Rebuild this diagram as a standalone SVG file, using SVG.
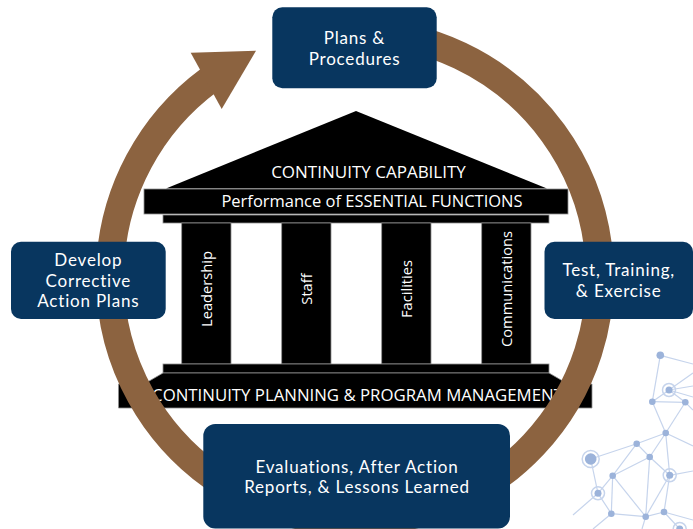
<svg xmlns="http://www.w3.org/2000/svg" width="693" height="529" viewBox="0 0 693 529">
  <style>
    .box { fill: #08365f; }
    .boxtxt { font-family: Lato, "Open Sans", sans-serif; font-size: 17px; letter-spacing: 0.8px; fill: #ffffff; text-anchor: middle; }
    .blk { fill: #000000; stroke: #8f8f8f; stroke-width: 0.8; }
    .ttxt { font-family: "Open Sans", "Noto Sans", sans-serif; fill: #ffffff; text-anchor: middle; }
    .col { font-size: 14.7px; }
    .net line { stroke: #c6d4ec; stroke-width: 1.2; }
    .net circle.d { fill: #9cb3da; }
    .net circle.h { fill: none; stroke: #c6d4ec; stroke-width: 1.5; }
  </style>

  <rect x="0" y="0" width="693" height="529" fill="#ffffff"/>

  <!-- network decoration -->
  <g class="net" id="network">
    <line x1="660.3" y1="355.3" x2="652.3" y2="401.7"/>
    <line x1="660.3" y1="355.3" x2="693" y2="364"/>
    <line x1="669" y1="390" x2="693" y2="373"/>
    <line x1="669" y1="390" x2="693" y2="386"/>
    <line x1="669" y1="390" x2="693" y2="397"/>
    <line x1="669" y1="390" x2="652.3" y2="401.7"/>
    <line x1="669" y1="390" x2="685.3" y2="402.3"/>
    <line x1="652.3" y1="401.7" x2="685.3" y2="402.3"/>
    <line x1="652.3" y1="401.7" x2="665.7" y2="433"/>
    <line x1="685.3" y1="402.3" x2="665.7" y2="433"/>
    <line x1="685.3" y1="402.3" x2="693" y2="410"/>
    <line x1="665.7" y1="433" x2="636.7" y2="443.7"/>
    <line x1="665.7" y1="433" x2="649.7" y2="457"/>
    <line x1="665.7" y1="433" x2="669.7" y2="475.3"/>
    <line x1="665.7" y1="433" x2="693" y2="446"/>
    <line x1="636.7" y1="443.7" x2="590.7" y2="459"/>
    <line x1="636.7" y1="443.7" x2="612.7" y2="475.7"/>
    <line x1="636.7" y1="443.7" x2="649.7" y2="457"/>
    <line x1="649.7" y1="457" x2="612.7" y2="475.7"/>
    <line x1="649.7" y1="457" x2="645.7" y2="516.7"/>
    <line x1="649.7" y1="457" x2="669.7" y2="475.3"/>
    <line x1="590.7" y1="459" x2="598" y2="493.3"/>
    <line x1="612.7" y1="475.7" x2="598" y2="493.3"/>
    <line x1="612.7" y1="475.7" x2="611.3" y2="513.7"/>
    <line x1="612.7" y1="475.7" x2="645.7" y2="516.7"/>
    <line x1="669.7" y1="475.3" x2="664" y2="512"/>
    <line x1="669.7" y1="475.3" x2="645.7" y2="516.7"/>
    <line x1="669.7" y1="475.3" x2="693" y2="471"/>
    <line x1="598" y1="493.3" x2="573" y2="515"/>
    <line x1="598" y1="493.3" x2="611.3" y2="513.7"/>
    <line x1="611.3" y1="513.7" x2="645.7" y2="516.7"/>
    <line x1="611.3" y1="513.7" x2="593" y2="529"/>
    <line x1="645.7" y1="516.7" x2="664" y2="512"/>
    <line x1="645.7" y1="516.7" x2="642" y2="529"/>
    <line x1="664" y1="512" x2="679.7" y2="529"/>
    <line x1="664" y1="512" x2="693" y2="520"/>
    <circle class="h" cx="669" cy="390" r="6.5"/>
    <circle class="h" cx="590.7" cy="459" r="8.5"/>
    <circle class="h" cx="669.7" cy="475.3" r="6.5"/>
    <circle class="h" cx="598" cy="493.3" r="6.5"/>
    <circle class="h" cx="679.7" cy="529" r="6.5"/>
    <circle class="d" cx="660.3" cy="355.3" r="3.8"/>
    <circle class="d" cx="669" cy="390" r="3.5"/>
    <circle class="d" cx="652.3" cy="401.7" r="3.3"/>
    <circle class="d" cx="685.3" cy="402.3" r="3.3"/>
    <circle class="d" cx="665.7" cy="433" r="3.3"/>
    <circle class="d" cx="636.7" cy="443.7" r="3.3"/>
    <circle class="d" cx="649.7" cy="457" r="3.3"/>
    <circle class="d" cx="590.7" cy="459" r="5.8"/>
    <circle class="d" cx="612.7" cy="475.7" r="3.3"/>
    <circle class="d" cx="669.7" cy="475.3" r="3.5"/>
    <circle class="d" cx="598" cy="493.3" r="3.5"/>
    <circle class="d" cx="611.3" cy="513.7" r="3.3"/>
    <circle class="d" cx="645.7" cy="516.7" r="3.3"/>
    <circle class="d" cx="664" cy="512" r="3.3"/>
    <circle class="d" cx="679.7" cy="529" r="3.5"/>
  </g>

  <!-- temple -->
  <g id="temple">
    <polygon points="356,111 547,188.5 166,188.5" fill="#000000"/>
    <rect class="blk" x="144" y="189" width="424" height="25"/>
    <rect class="blk" x="163" y="215" width="386" height="8"/>
    <rect class="blk" x="181.7" y="223" width="49.3" height="141"/>
    <rect class="blk" x="281.7" y="223" width="49.3" height="141"/>
    <rect class="blk" x="381.7" y="223" width="49.3" height="141"/>
    <rect class="blk" x="481.7" y="223" width="49.3" height="141"/>
    <rect class="blk" x="163" y="364" width="386" height="9"/>
    <polygon class="blk" points="163,373 549,373 568,384 592,384 592,408 118.5,408 118.5,384 144,384"/>
    <text class="ttxt" x="368.5" y="178" font-size="17">CONTINUITY CAPABILITY</text>
    <text class="ttxt" x="372" y="206.5" font-size="16.5">Performance of ESSENTIAL FUNCTIONS</text>
    <text class="ttxt col" transform="translate(211.6,289) rotate(-90)">Leadership</text>
    <text class="ttxt col" transform="translate(311.6,289) rotate(-90)">Staff</text>
    <text class="ttxt col" transform="translate(411.6,289) rotate(-90)">Facilities</text>
    <text class="ttxt col" transform="translate(511.6,289) rotate(-90)">Communications</text>
    <text class="ttxt" x="357.5" y="400.5" font-size="16.8">CONTINUITY PLANNING &amp; PROGRAM MANAGEMENT</text>
  </g>

  <!-- connector: cycle ring with arrowhead -->
  <g id="connectors">
    <path d="M 355 32 A 245 245 0 1 1 209.3 80" fill="none" stroke="#8c6340" stroke-width="28"/>
    <polygon points="190.7,52.7 256,50.7 221.7,109" fill="#8c6340"/>
  </g>

  <!-- nodes -->
  <g id="node-plans">
    <rect class="box" x="272.3" y="7.3" width="164.4" height="81" rx="10"/>
    <text class="boxtxt" x="354.5" y="44">Plans &amp;</text>
    <text class="boxtxt" x="354.5" y="64.5">Procedures</text>
  </g>
  <g id="node-test">
    <rect class="box" x="544.5" y="241.7" width="148.5" height="77.3" rx="10"/>
    <text class="boxtxt" x="618.7" y="276">Test, Training,</text>
    <text class="boxtxt" x="618.7" y="296.5">&amp; Exercise</text>
  </g>
  <g id="node-evaluations">
    <rect class="box" x="203.3" y="424" width="306.7" height="104.5" rx="12"/>
    <text class="boxtxt" x="357" y="472.7">Evaluations, After Action</text>
    <text class="boxtxt" x="357" y="493.3">Reports, &amp; Lessons Learned</text>
  </g>
  <g id="node-develop">
    <rect class="box" x="11" y="241.7" width="154.7" height="77.3" rx="10"/>
    <text class="boxtxt" x="88.3" y="266">Develop</text>
    <text class="boxtxt" x="88.3" y="286.5">Corrective</text>
    <text class="boxtxt" x="88.3" y="307">Action Plans</text>
  </g>
</svg>
